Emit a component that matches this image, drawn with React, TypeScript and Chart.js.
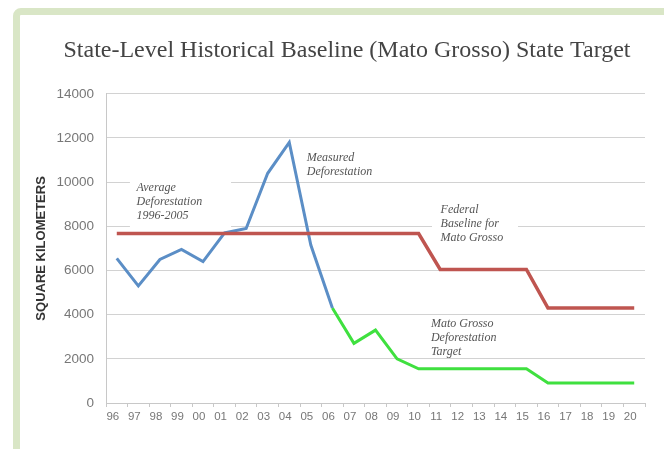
import React, { useEffect, useRef } from "react";
import { Chart, registerables } from "chart.js";

Chart.register(...registerables);

const years = ["96", "97", "98", "99", "00", "01", "02", "03", "04", "05", "06", "07", "08", "09", "10", "11", "12", "13", "14", "15", "16", "17", "18", "19", "20"];

const measured = [6550, 5300, 6500, 6950, 6400, 7700, 7900, 10400, 11800, 7150, 4300, null, null, null, null, null, null, null, null, null, null, null, null, null, null];

const federalBaseline = [7670, 7670, 7670, 7670, 7670, 7670, 7670, 7670, 7670, 7670, 7670, 7670, 7670, 7670, 7670, 6050, 6050, 6050, 6050, 6050, 4300, 4300, 4300, 4300, 4300];

const stateTarget = [null, null, null, null, null, null, null, null, null, null, 4300, 2700, 3300, 2000, 1550, 1550, 1550, 1550, 1550, 1550, 900, 900, 900, 900, 900];

const yTicks = [0, 2000, 4000, 6000, 8000, 10000, 12000, 14000];

const titleText = "State-Level Historical Baseline (Mato Grosso) State Target";
const yTitle = "SQUARE KILOMETERS";

// annotation labels, anchored in data space (category index, value)
const notes = [
  { lines: ["Average", "Deforestation", "1996-2005"], x: 0.92, y: 9720, clear: [0.61, 5.3, 10250, 7850] },
  { lines: ["Measured", "Deforestation"], x: 8.81, y: 11110, clear: null },
  { lines: ["Federal", "Baseline for", "Mato Grosso"], x: 15.02, y: 8740, clear: [14.62, 18.61, 8900, 7850] },
  { lines: ["Mato Grosso", "Deforestation", "Target"], x: 14.57, y: 3600, clear: null },
];

const notesPlugin = {
  id: "notes",
  beforeDatasetsDraw(chart: any) {
    const { ctx, scales } = chart;
    const xs = scales.x, ys = scales.y;
    ctx.save();
    ctx.fillStyle = "#ffffff";
    notes.forEach((n) => {
      if (!n.clear) return;
      const x1 = xs.getPixelForValue(n.clear[0]);
      const x2 = xs.getPixelForValue(n.clear[1]);
      const y1 = ys.getPixelForValue(n.clear[2]);
      const y2 = ys.getPixelForValue(n.clear[3]);
      ctx.fillRect(x1, y1, x2 - x1, y2 - y1);
    });
    ctx.restore();
  },
  afterDatasetsDraw(chart: any) {
    const { ctx, scales } = chart;
    const xs = scales.x, ys = scales.y;
    ctx.save();
    ctx.font = "italic 12px 'Liberation Serif', 'DejaVu Serif', serif";
    ctx.fillStyle = "#555555";
    ctx.textAlign = "left";
    ctx.textBaseline = "middle";
    notes.forEach((n) => {
      const px = xs.getPixelForValue(n.x);
      const py = ys.getPixelForValue(n.y);
      n.lines.forEach((l, i) => ctx.fillText(l, px, py + i * 14));
    });
    ctx.restore();
  },
};

export default function App() {
  const canvasRef = useRef<HTMLCanvasElement | null>(null);

  useEffect(() => {
    document.body.style.margin = "0";
    const canvas = canvasRef.current;
    if (!canvas) return;
    const chart = new Chart(canvas, {
      type: "line",
      data: {
        labels: years,
        datasets: [
          {
            label: "Federal Baseline",
            data: federalBaseline,
            borderColor: "#bf5550",
            borderWidth: 3.5,
            pointRadius: 0,
            tension: 0,
            fill: false,
          },
          {
            label: "Measured Deforestation",
            data: measured,
            borderColor: "#5b8ec6",
            borderWidth: 3,
            pointRadius: 0,
            tension: 0,
            fill: false,
          },
          {
            label: "Mato Grosso Target",
            data: stateTarget,
            borderColor: "#3fe03f",
            borderWidth: 3,
            pointRadius: 0,
            tension: 0,
            fill: false,
          },
        ],
      },
      options: {
        animation: false,
        responsive: true,
        maintainAspectRatio: false,
        layout: { padding: { top: 20, left: 49, right: 19, bottom: 22 } },
        plugins: {
          legend: { display: false },
          tooltip: { enabled: false },
          title: {
            display: true,
            text: titleText,
            color: "#444444",
            font: { family: "'Liberation Serif', 'DejaVu Serif', serif", size: 24, weight: "normal" },
            padding: { top: 16, bottom: 29 },
          },
        },
        scales: {
          x: {
            type: "category",
            offset: true,
            grid: {
              display: true,
              drawOnChartArea: false,
              drawTicks: true,
              tickLength: 4,
              color: "#c8c8c8",
              offset: true,
            },
            border: { display: true, color: "#c8c8c8" },
            ticks: {
              color: "#777777",
              font: { family: "'Liberation Sans', Arial, sans-serif", size: 11.5 },
              padding: 3,
              maxRotation: 0,
              autoSkip: false,
              labelOffset: -4,
            },
            afterFit(scale: any) {
              scale.height = 24;
            },
          },
          y: {
            min: 0,
            max: 14000,
            afterBuildTicks(scale: any) {
              scale.ticks = yTicks.map((v) => ({ value: v }));
            },
            grid: {
              color: "#d2d2d2",
              drawTicks: false,
              lineWidth: 1,
            },
            border: { display: true, color: "#c8c8c8" },
            ticks: {
              color: "#777777",
              font: { family: "'Liberation Sans', Arial, sans-serif", size: 13.5 },
              padding: 12,
              callback: (v: any) => String(v),
            },
            title: {
              display: true,
              text: yTitle,
              color: "#333333",
              font: { family: "'Liberation Sans', Arial, sans-serif", size: 13, weight: "bold" },
              padding: { top: -15, bottom: 0 },
            },
            afterFit(scale: any) {
              scale.width = 57;
            },
          },
        },
      },
      plugins: [notesPlugin],
    } as any);
    return () => chart.destroy();
  }, []);

  return (
    <div style={{ position: "relative", width: 664, height: 449, overflow: "hidden", background: "#ffffff" }}>
      <div
        style={{
          position: "absolute",
          left: 13,
          top: 8,
          width: 720,
          height: 520,
          border: "7px solid #d9e6c6",
          borderRadius: 8,
          boxSizing: "border-box",
        }}
      />
      <div style={{ position: "absolute", left: 0, top: 0, width: 664, height: 449 }}>
        <canvas ref={canvasRef} />
      </div>
    </div>
  );
}
